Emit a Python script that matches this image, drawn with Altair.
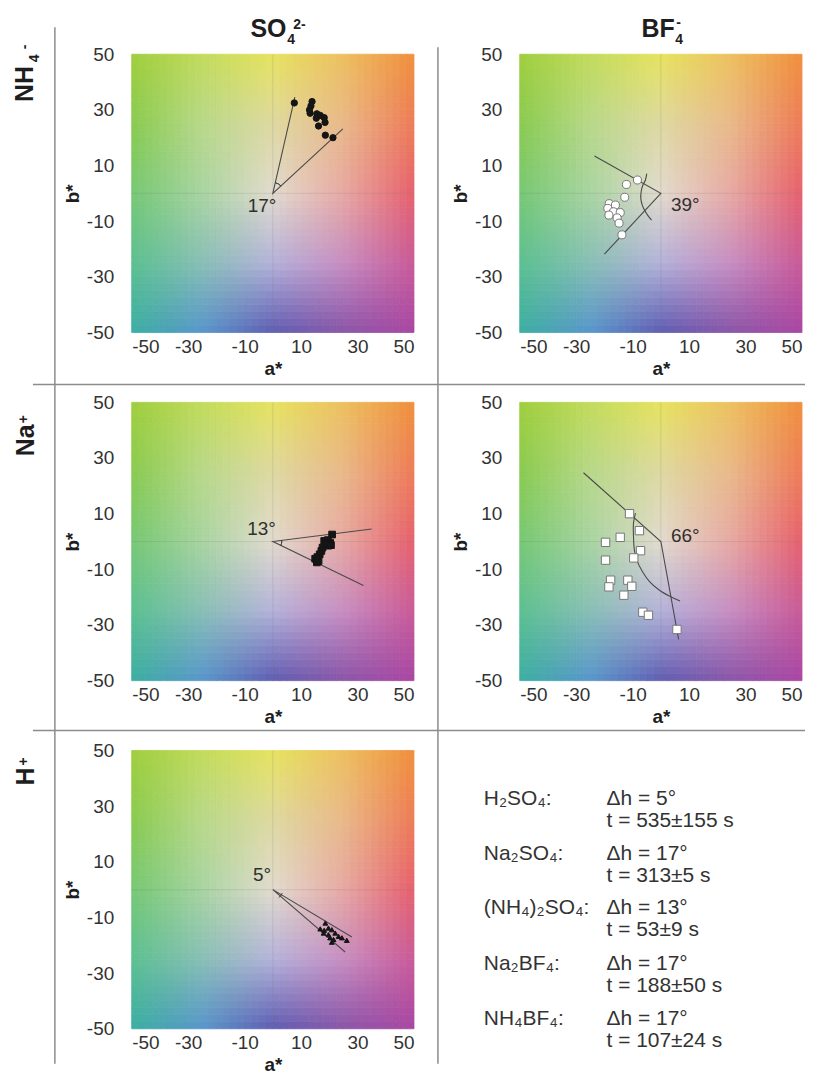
import altair as alt
import numpy as np
import pandas as pd

FONT = "Liberation Sans"
TICKS = [-50, -30, -10, 10, 30, 50]

# ---------------- background colour plane (colours) ----------------
bg_a_levels = [-50, -25, 0, 25, 50]
bg_b_levels = [50, 25, 0, -25, -50]
bg_row_b50 = ["#9fce3e", "#c2db5c", "#e6e35f", "#edc060", "#f0903e"]
bg_row_b25 = ["#89cb50", "#b8d88a", "#ded9a2", "#e9b98a", "#ee7c58"]
bg_row_b0 = ["#76c874", "#a8d4a2", "#e2dbcf", "#e7a9a4", "#e6616e"]
bg_row_bm25 = ["#5cc091", "#88bfb6", "#b4b2da", "#c78ec2", "#c95b98"]
bg_row_bm50 = ["#3caea2", "#5896cc", "#5f5db2", "#8a56a8", "#aa47a4"]

# ---------------- NH4+ / SO4 2-  (filled circles) ----------------
nh4_so4_a = [7.6, 13.9, 13.5, 13.0, 13.2, 15.6, 16.8, 15.4, 18.2, 18.5, 16.2, 18.6, 21.3]
nh4_so4_b = [32.5, 33.0, 31.4, 30.0, 28.8, 28.6, 28.0, 27.0, 27.2, 25.5, 24.2, 20.9, 20.0]
nh4_so4_line_a = [7.8, 0, 24.8]
nh4_so4_line_b = [34.6, 0, 23.2]
nh4_so4_label = "17°"

# ---------------- NH4+ / BF4-  (open circles) ----------------
nh4_bf4_a = [-8.3, -12.2, -12.8, -18.3, -16.1, -18.8, -16.8, -14.4, -18.4, -15.5, -14.8, -13.8]
nh4_bf4_b = [4.8, 3.2, -1.4, -3.7, -4.2, -5.4, -6.6, -6.9, -7.8, -8.8, -10.7, -14.9]
nh4_bf4_line_a = [-23.5, 0, -20.0]
nh4_bf4_line_b = [13.4, 0, -21.8]
nh4_bf4_curve_a = [-5.0, -5.5, -6.4, -7.0, -7.1, -6.6, -5.8, -4.7, -3.3]
nh4_bf4_curve_b = [7.1, 4.7, 2.9, 0.5, -1.9, -4.2, -6.0, -7.8, -9.6]
nh4_bf4_label = "39°"

# ---------------- Na+ / SO4 2-  (filled squares) ----------------
na_so4_a = [21.0, 18.2, 19.5, 20.3, 19.6, 18.5, 17.6, 20.6, 17.2, 16.6, 15.8, 15.0, 15.6, 16.2]
na_so4_b = [2.5, 0.2, 0.5, -0.5, -1.5, -1.0, -2.2, -1.3, -3.4, -4.6, -5.6, -6.2, -7.5, -7.0]
na_so4_line_a = [35.0, 0, 32.1]
na_so4_line_b = [4.5, 0, -15.8]
na_so4_label = "13°"

# ---------------- Na+ / BF4-  (open squares) ----------------
na_bf4_a = [-11.1, -7.6, -14.4, -19.6, -7.2, -9.6, -19.6, -17.8, -11.7, -18.4, -10.3, -13.1, -6.4, -4.4, 5.7]
na_bf4_b = [10.0, 3.9, 1.5, -0.3, -3.3, -5.9, -6.7, -13.9, -13.9, -16.3, -16.1, -19.3, -25.4, -26.5, -31.6]
na_bf4_line_a = [-27.4, 0, 6.3]
na_bf4_line_b = [24.7, 0, -35.2]
na_bf4_curve_a = [-9.0, -9.7, -9.7, -9.4, -8.6, -6.6, -4.1, -0.5, 3.0, 6.8]
na_bf4_curve_b = [10.2, 6.6, 1.9, -2.9, -6.5, -10.7, -14.3, -17.5, -19.6, -21.4]
na_bf4_label = "66°"

# ---------------- H+ / SO4 2-  (filled triangles) ----------------
h_so4_a = [18.6, 16.8, 18.2, 19.7, 20.9, 22.1, 19.7, 18.0, 20.3, 21.5, 23.3, 24.5, 26.2, 20.9]
h_so4_b = [-12.0, -14.1, -14.6, -13.8, -14.4, -15.6, -16.2, -15.6, -17.3, -17.9, -16.8, -17.3, -18.2, -18.9]
h_so4_line_a = [28.0, 0, 25.6]
h_so4_line_b = [-17.0, 0, -22.4]
h_so4_label = "5°"

# ---------------- summary text ----------------
table_salts = ["H₂SO₄:", "Na₂SO₄:", "(NH₄)₂SO₄:", "Na₂BF₄:", "NH₄BF₄:"]
table_dh = ["Δh = 5°", "Δh = 17°", "Δh = 13°", "Δh = 17°", "Δh = 17°"]
table_t = ["t = 535±155 s", "t = 313±5 s", "t = 53±9 s", "t = 188±50 s", "t = 107±24 s"]

# ====================================================================
W, H = 283, 279
XS = alt.Scale(domain=[-50, 50], nice=False, zero=False)
YS = alt.Scale(domain=[-50, 50], nice=False, zero=False)
LBL = "'' + datum.value"
AX_X = alt.Axis(values=TICKS, title="a*", labelExpr=LBL)
AX_Y = alt.Axis(values=TICKS, title="b*", labelExpr=LBL)
ONE = pd.DataFrame({"k": [0]})
LINE_COL = "#4a4a4a"


def X(f):
    return alt.X(f, type="quantitative", scale=XS, axis=AX_X)


def Y(f):
    return alt.Y(f, type="quantitative", scale=YS, axis=AX_Y)


def Xd(v):
    return alt.X(datum=v, type="quantitative", scale=XS, axis=AX_X)


def Yd(v):
    return alt.Y(datum=v, type="quantitative", scale=YS, axis=AX_Y)


def hex2rgb(h):
    return [int(h[i:i + 2], 16) for i in (1, 3, 5)]


ctrl = np.array([[hex2rgb(c) for c in row] for row in
                 [bg_row_b50, bg_row_b25, bg_row_b0, bg_row_bm25, bg_row_bm50]], dtype=float)
N = 40
step = 100.0 / N
cells = []
for i in range(N):
    b0 = -50 + i * step
    bc = b0 + step / 2
    v = (50 - bc) / 25.0
    vi = min(int(v), 3)
    fv = v - vi
    for j in range(N):
        a0 = -50 + j * step
        ac = a0 + step / 2
        u = (ac + 50) / 25.0
        ui = min(int(u), 3)
        fu = u - ui
        col = (ctrl[vi, ui] * (1 - fu) * (1 - fv) + ctrl[vi, ui + 1] * fu * (1 - fv)
               + ctrl[vi + 1, ui] * (1 - fu) * fv + ctrl[vi + 1, ui + 1] * fu * fv)
        c = "#%02x%02x%02x" % tuple(int(round(x)) for x in col)
        cells.append({"a0": a0, "a1": a0 + step, "b0": b0, "b1": b0 + step, "c": c})
bg_df = pd.DataFrame(cells)


def background():
    return alt.Chart(bg_df).mark_rect(strokeWidth=0.8).encode(
        x=X("a0"), x2=alt.X2("a1"), y=Y("b0"), y2=alt.Y2("b1"),
        fill=alt.Fill("c:N", scale=None), stroke=alt.Stroke("c:N", scale=None))


def cross():
    v = alt.Chart(ONE).mark_rule(color="#707070", strokeOpacity=0.18, strokeWidth=1).encode(x=Xd(0))
    h = alt.Chart(ONE).mark_rule(color="#707070", strokeOpacity=0.18, strokeWidth=1).encode(y=Yd(0))
    return [v, h]


def polyline(xs, ys, interp="linear"):
    df = pd.DataFrame({"a": xs, "b": ys, "o": list(range(len(xs)))})
    return alt.Chart(df).mark_line(color=LINE_COL, strokeWidth=1.1, interpolate=interp).encode(
        x=X("a"), y=Y("b"), order="o:Q")


def vertex_arc(r, t1, t2):
    return alt.Chart(ONE).mark_arc(radius=r, radius2=r, theta=t1, theta2=t2, filled=False,
                                   stroke=LINE_COL, strokeWidth=1).encode(x=Xd(0), y=Yd(0))


def points(xs, ys, shape, size, fill, stroke):
    df = pd.DataFrame({"a": xs, "b": ys})
    return alt.Chart(df).mark_point(shape=shape, size=size, filled=True, fill=fill, stroke=stroke,
                                    strokeWidth=1, opacity=1).encode(x=X("a"), y=Y("b"))


def angle_label(s, a, b, align):
    df = pd.DataFrame({"a": [a], "b": [b], "t": [s]})
    return alt.Chart(df).mark_text(font=FONT, fontSize=19, color="#303030", align=align,
                                   baseline="middle").encode(x=X("a"), y=Y("b"), text="t:N")


def txt(s, px, py, size, bold=False, angle=0, align="left", color="#1e1e1e"):
    return alt.Chart(ONE).mark_text(text=s, font=FONT, fontSize=size,
                                    fontWeight="bold" if bold else "normal", angle=angle,
                                    align=align, baseline="alphabetic", color=color).encode(
        x=alt.value(px), y=alt.value(py))


def rule(x1, y1, x2, y2, color="#8c8c8c", w=1.5):
    return alt.Chart(ONE).mark_rule(color=color, strokeWidth=w).encode(
        x=alt.value(x1), y=alt.value(y1), x2=alt.value(x2), y2=alt.value(y2))


# ---------------- decorations (pixel positions relative to first plot area) ----------------
deco = [
    rule(-123, -44, -122.5, -44, color="#ffffff", w=1),  # page anchor
    rule(-77, -27, -77, 1012),
    rule(307, -7, 307, 1012),
    rule(-99, 331, 675, 331),
    rule(-99, 678, 675, 678),
    # column headings
    txt("SO", 119, -17, 25, bold=True),
    txt("4", 156, -10, 14, bold=True),
    txt("2-", 162, -25, 14, bold=True),
    txt("BF", 511, -17, 25, bold=True),
    txt("4", 545, -10, 14, bold=True),
    txt("-", 546, -27, 14, bold=True),
    # row headings (rotated)
    txt("NH", -99, 48, 25, bold=True, angle=270),
    txt("4", -93, 8, 14, bold=True, angle=270),
    txt("-", -103, -5, 14, bold=True, angle=270),
    txt("Na", -98, 403, 25, bold=True, angle=270),
    txt("+", -104, 370, 14, bold=True, angle=270),
    txt("H", -98, 733, 25, bold=True, angle=270),
    txt("+", -104, 713, 14, bold=True, angle=270),
]
base_y = [753, 808, 862, 918, 973]
for k in range(5):
    deco.append(txt(table_salts[k], 353, base_y[k], 21, color="#333333"))
    deco.append(txt(table_dh[k], 476, base_y[k], 21, color="#333333"))
    deco.append(txt(table_t[k], 476, base_y[k] + 22, 21, color="#333333"))

BLACK = "#151515"

p1 = alt.layer(
    background(), *cross(),
    polyline(nh4_so4_line_a, nh4_so4_line_b),
    vertex_arc(11, 0.20, 0.85),
    points(nh4_so4_a, nh4_so4_b, "circle", 40, BLACK, BLACK),
    angle_label(nh4_so4_label, -3.8, -4.4, "center"),
    *deco,
).properties(width=W, height=H)

p2 = alt.layer(
    background(), *cross(),
    polyline(nh4_bf4_line_a, nh4_bf4_line_b),
    polyline(nh4_bf4_curve_a, nh4_bf4_curve_b, "catmull-rom"),
    points(nh4_bf4_a, nh4_bf4_b, "circle", 65, "#ffffff", "#777777"),
    angle_label(nh4_bf4_label, 3.6, -4.2, "left"),
).properties(width=W, height=H)

p3 = alt.layer(
    background(), *cross(),
    polyline(na_so4_line_a, na_so4_line_b),
    vertex_arc(9, 1.40, 2.08),
    points(na_so4_a, na_so4_b, "square", 45, BLACK, BLACK),
    angle_label(na_so4_label, -4.0, 4.6, "center"),
).properties(width=W, height=H)

p4 = alt.layer(
    background(), *cross(),
    polyline(na_bf4_line_a, na_bf4_line_b),
    polyline(na_bf4_curve_a, na_bf4_curve_b, "catmull-rom"),
    points(na_bf4_a, na_bf4_b, "square", 70, "#ffffff", "#777777"),
    angle_label(na_bf4_label, 3.6, 1.9, "left"),
).properties(width=W, height=H)

p5 = alt.layer(
    background(), *cross(),
    polyline(h_so4_line_a, h_so4_line_b),
    vertex_arc(10, 1.95, 2.45),
    points(h_so4_a, h_so4_b, "triangle-up", 24, BLACK, BLACK),
    angle_label(h_so4_label, -3.8, 5.4, "center"),
).properties(width=W, height=H)

chart = alt.concat(
    p1, p2, p3, p4, p5, columns=2,
    spacing=alt.RowColnumber(row=70, column=106), bounds="flush",
).properties(
    padding={"left": 0, "top": 0, "right": 0, "bottom": 0}
).configure_view(stroke=None).configure_axis(
    domain=False, ticks=False, tickSize=0, grid=False,
    labelFont=FONT, labelFontSize=19, labelColor="#333333",
    titleFont=FONT, titleFontSize=19, titleFontWeight="bold", titleColor="#1e1e1e",
).configure_axisX(labelPadding=5, titlePadding=3).configure_axisY(labelPadding=18, titlePadding=4)

chart.save("out.html", embed_options={"renderer": "svg", "actions": False})
